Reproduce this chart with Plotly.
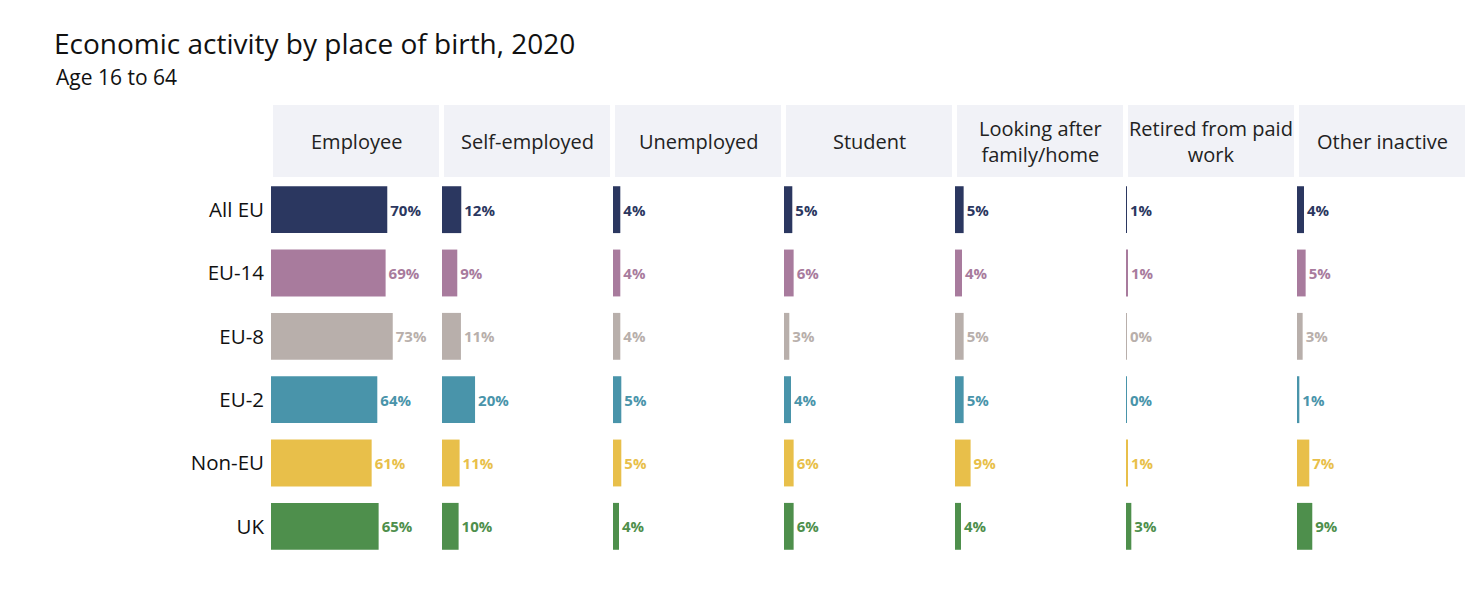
import plotly.graph_objects as go

# data (% of age 16-64)
groups = ["All EU", "EU-14", "EU-8", "EU-2", "Non-EU", "UK"]
activities = ["Employee", "Self-employed", "Unemployed", "Student",
              "Looking after<br>family/home", "Retired from paid<br>work", "Other inactive"]

employee = [70.0, 69.0, 73.3, 64.0, 60.6, 64.8]
self_employed = [11.6, 9.2, 11.4, 19.9, 10.6, 10.0]
unemployed = [4.4, 4.4, 4.4, 5.0, 5.0, 3.6]
student = [5.0, 5.8, 3.2, 4.2, 5.8, 5.8]
looking_after = [5.2, 4.2, 5.2, 5.2, 9.4, 3.6]
retired = [0.6, 1.2, 0.4, 0.4, 1.2, 3.2]
other_inactive = [4.2, 5.2, 3.4, 1.4, 7.4, 9.2]

series = [employee, self_employed, unemployed, student, looking_after, retired, other_inactive]

colors = ["#2b3760", "#a87b9d", "#b8afab", "#4994aa", "#e8bf4a", "#4e8f4c"]

FONT = "Open Sans"
OFF = 8  # page body margin shifts the figure by this much
W, H = 1483, 600
L, T = 271 - OFF, 178 - OFF
R = W - (1465 - OFF)
B = H - (558 - OFF)
plot_w = W - L - R
plot_h = H - T - B
step, panel = 171, 168

fig = go.Figure()
shapes = []
annotations = []

for i, (name, vals) in enumerate(zip(activities, series)):
    ax = "" if i == 0 else str(i + 1)
    x0 = i * step / plot_w
    x1 = (i * step + panel) / plot_w
    fig.add_trace(go.Bar(
        x=vals, y=groups, orientation="h",
        xaxis="x" + ax, yaxis="y",
        marker=dict(color=colors, line=dict(width=0)),
        texttemplate="%{x:.0f}%", textposition="outside",
        outsidetextfont=dict(family=FONT, size=15, color=colors, weight=700),
        cliponaxis=False, showlegend=False, hoverinfo="skip",
    ))
    fig.update_layout(**{"xaxis" + ax: dict(
        domain=[x0, x1], range=[0, panel / 1.661], visible=False, fixedrange=True)})

    # header box
    hx0 = (i * step + 2) / plot_w
    hx1 = (i * step + panel) / plot_w
    shapes.append(dict(type="rect", xref="paper", yref="paper",
                       x0=hx0, x1=hx1, y0=1 + 1 / plot_h, y1=1 + 73 / plot_h,
                       fillcolor="#f1f2f7", line=dict(width=0), layer="below"))
    annotations.append(dict(xref="paper", yref="paper", x=(hx0 + hx1) / 2,
                            y=1 + 37 / plot_h, text=name, showarrow=False,
                            xanchor="center", yanchor="middle",
                            font=dict(family=FONT, size=20, color="#222222")))

annotations.append(dict(xref="paper", yref="paper", x=(54 - OFF - L) / plot_w,
                        y=1 + (T - (77 - OFF)) / plot_h, text="Age 16 to 64", showarrow=False,
                        xanchor="left", yanchor="middle",
                        font=dict(family=FONT, size=21, color="#111111")))

fig.update_layout(
    width=W, height=H,
    margin=dict(l=L, r=R, t=T, b=B),
    paper_bgcolor="white", plot_bgcolor="white",
    title=dict(text="Economic activity by place of birth, 2020",
               x=(54 - OFF) / W, xanchor="left", xref="container",
               y=1 - (44 - OFF) / H, yanchor="middle", yref="container",
               font=dict(family=FONT, size=28, color="#111111")),
    yaxis=dict(categoryorder="array", categoryarray=groups, autorange="reversed",
               showgrid=False, zeroline=False, showline=False, ticks="",
               ticklabelstandoff=6,
               tickfont=dict(family=FONT, size=20.5, color="#111111"), fixedrange=True),
    bargap=0.26,
    shapes=shapes,
    annotations=annotations,
)

fig.write_html("out.html")
